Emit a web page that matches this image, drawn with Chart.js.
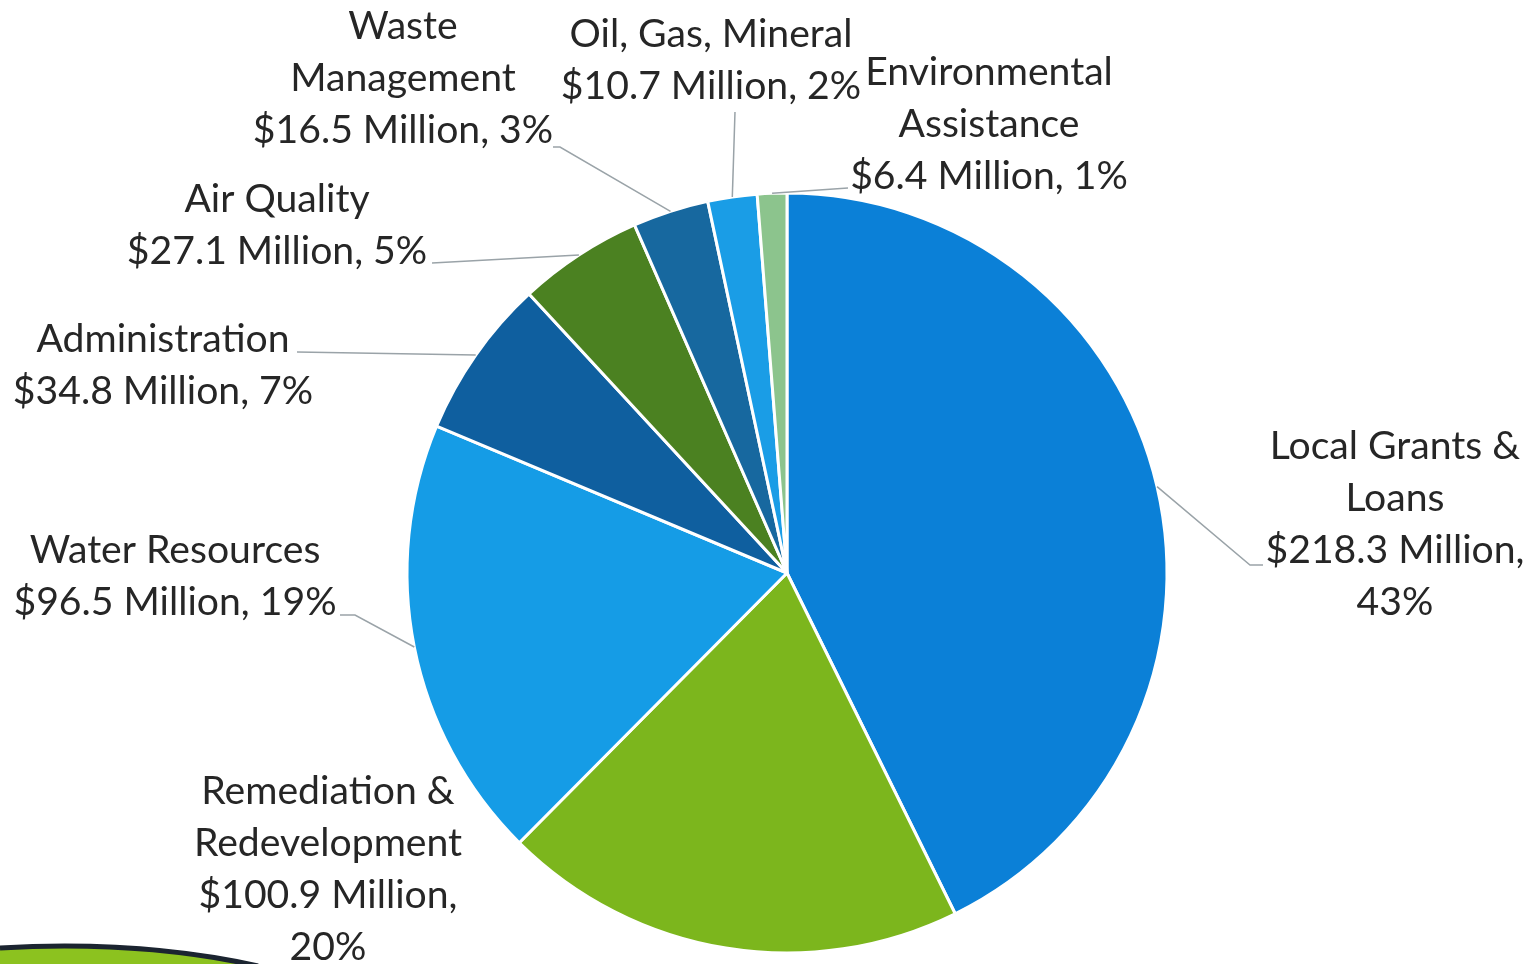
<!DOCTYPE html>
<html>
<head>
<meta charset="utf-8">
<script src="https://cdn.jsdelivr.net/npm/chart.js@4.4.0/dist/chart.umd.min.js"></script>
<style>
  html, body { margin: 0; padding: 0; background: #fff; }
  #wrap { width: 1532px; height: 964px; position: relative; }
</style>
</head>
<body>
<div id="wrap"><canvas id="budget-pie"></canvas></div>
<script>
// budget by program, $ millions
const categories = [
    'Local Grants & Loans',
    'Remediation & Redevelopment',
    'Water Resources',
    'Administration',
    'Air Quality',
    'Waste Management',
    'Oil, Gas, Mineral',
    'Environmental Assistance'
];
const amounts = [218.3, 100.9, 96.5, 34.8, 27.1, 16.5, 10.7, 6.4];
const percents = [43, 20, 19, 7, 5, 3, 2, 1];
const labelLines = [
    ['Local Grants &', 'Loans', '$218.3 Million,', '43%'],
    ['Remediation &', 'Redevelopment', '$100.9 Million,', '20%'],
    ['Water Resources', '$96.5 Million, 19%'],
    ['Administration', '$34.8 Million, 7%'],
    ['Air Quality', '$27.1 Million, 5%'],
    ['Waste', 'Management', '$16.5 Million, 3%'],
    ['Oil, Gas, Mineral', '$10.7 Million, 2%'],
    ['Environmental', 'Assistance', '$6.4 Million, 1%']
];
const sliceColors = ['#0b80d7', '#7cb61d', '#159ce6', '#0f5f9f', '#4b8121', '#17689f', '#1a9de6', '#8cc48d'];

// where each label block sits (center x, first line y) and its leader line points
const labelPos = [
    {x: 1395, y: 447, line: [[1250, 565], [1263, 565]]},
    {x: 328, y: 792, line: null},
    {x: 175, y: 551, line: [[355, 615], [340, 615]]},
    {x: 163, y: 340, line: [[297, 352]]},
    {x: 277, y: 200, line: [[432, 263]]},
    {x: 403, y: 27, line: [[560, 147], [553, 147]]},
    {x: 711, y: 35, line: [[735, 112]]},
    {x: 989, y: 73, line: [[848, 188]]}
];
const lineGap = 52;

const swoosh = {
    id: 'swoosh',
    beforeDraw(chart) {
        const c = chart.ctx;
        c.save();
        c.beginPath();
        c.moveTo(0, 948);
        c.quadraticCurveTo(140, 940, 258, 966);
        c.lineTo(0, 966);
        c.closePath();
        c.fillStyle = '#8cc21f';
        c.fill();
        c.beginPath();
        c.moveTo(0, 948);
        c.quadraticCurveTo(140, 940, 258, 966);
        c.lineWidth = 5;
        c.strokeStyle = '#1b2430';
        c.stroke();
        c.restore();
    }
};

const outsideLabels = {
    id: 'outsideLabels',
    afterDatasetsDraw(chart) {
        const c = chart.ctx;
        const arcs = chart.getDatasetMeta(0).data;
        c.save();
        arcs.forEach((arc, i) => {
            const p = labelPos[i];
            if (p.line) {
                const mid = (arc.startAngle + arc.endAngle) / 2;
                c.beginPath();
                c.moveTo(arc.x + Math.cos(mid) * arc.outerRadius, arc.y + Math.sin(mid) * arc.outerRadius);
                p.line.forEach(pt => c.lineTo(pt[0], pt[1]));
                c.strokeStyle = '#9aa3a8';
                c.lineWidth = 1.5;
                c.stroke();
            }
            c.fillStyle = '#262626';
            c.font = '38px Lato';
            c.textAlign = 'center';
            c.textBaseline = 'middle';
            labelLines[i].forEach((t, k) => {
                c.save();
                c.translate(p.x, p.y + k * lineGap);
                c.scale(1.03, 1);
                c.fillText(t, 0, 0);
                c.restore();
            });
        });
        c.restore();
    }
};

const pie = new Chart(document.getElementById('budget-pie'), {
    type: 'pie',
    data: {
        labels: categories,
        datasets: [{
            data: amounts,
            backgroundColor: sliceColors,
            borderColor: '#ffffff',
            borderWidth: 3
        }]
    },
    options: {
        responsive: true,
        maintainAspectRatio: false,
        animation: false,
        radius: 380,
        layout: {padding: {left: 408, right: 366, top: 194, bottom: 12}},
        plugins: {
            legend: {display: false},
            tooltip: {enabled: false}
        }
    },
    plugins: [swoosh, outsideLabels]
});
</script>
</body>
</html>
